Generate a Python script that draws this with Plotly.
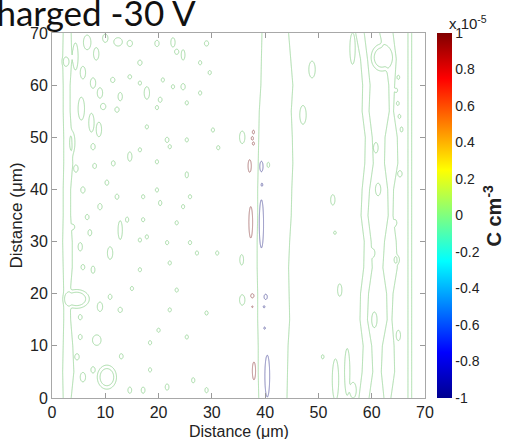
import numpy as np
import plotly.graph_objects as go

# ---------------------------------------------------------------------------
# Space-charge map, sample charged at -30 V.
# Values are in units of 1e-5 C cm^-3.
# ---------------------------------------------------------------------------

# Contour levels drawn
GREEN_LEVELS = [0.5, 1.5]      # near-zero charge (background fluctuations)
RED_LEVEL = 0.9                # positive charge
BLUE_LEVEL = -0.9              # negative charge
POCKET_PEAK = 2.0              # peak magnitude of the charge pockets

# Vertical near-zero contour bands: edge positions (um) sampled along y
BAND_Y = [0, 5, 10, 15, 20, 25, 30, 35, 40, 45, 50, 55, 60, 65, 70]
BAND_A_LEFT = [2.1, 2.0, 2.1, 2.2, 2.2, 2.1, 2.0, 2.1, 2.1, 2.2, 2.2, 2.1, 2.1, 2.0, 2.1]
BAND_A_RIGHT = [3.6, 4.1, 3.9, 3.5, 3.4, 3.8, 3.8, 3.5, 3.5, 3.9, 3.7, 3.4, 3.4, 3.7, 3.6]
BAND_B_LEFT = [38.8, 38.7, 38.7, 38.6, 38.6, 38.5, 38.5, 38.6, 38.6, 38.7, 38.8, 38.9, 39.2, 39.3, 39.4]
BAND_B_RIGHT = [44.1, 44.2, 44.3, 44.6, 44.5, 44.4, 44.6, 44.9, 45.0, 45.2, 45.1, 44.9, 45.2, 44.8, 44.4]
BAND_C_LEFT = [57.6, 58.2, 58.4, 57.8, 57.9, 58.5, 58.6, 58.0, 58.2, 58.7, 58.8, 58.2, 58.3, 57.9, 57.0]
BAND_C_RIGHT = [59.5, 60.2, 60.0, 59.2, 59.4, 60.1, 59.9, 59.3, 59.6, 60.3, 60.1, 59.5, 59.7, 59.2, 58.6]
BAND_E_LEFT = [62.3, 61.8, 62.0, 62.9, 62.8, 62.1, 62.4, 63.1, 63.0, 62.4, 62.5, 63.3, 63.2, 62.6, 61.5]
BAND_E_RIGHT = [63.6, 64.3, 64.2, 63.8, 64.0, 64.8, 64.6, 64.0, 64.1, 64.9, 64.8, 64.1, 64.3, 64.6, 64.0]
BAND_D_LEFT = [66.8] * 15
BAND_D_RIGHT = [67.5] * 15

# Small near-zero islands: x, y, half-width x, half-width y (um)
GREEN_X = [2.6, 4.4, 6.6, 8.3, 10.0, 12.4, 14.6, 16.5, 19.7, 22.7, 23.4, 24.6,
           27.8, 29.0, 29.6, 5.8, 7.7, 11.4, 9.0, 12.8, 14.6, 16.5, 17.8, 20.8,
           22.7, 20.3, 24.6, 27.8, 25.3, 5.5, 7.4, 9.6, 12.2, 8.8, 17.8, 19.7,
           30.2, 16.5, 14.6, 19.7, 21.6, 25.3, 25.3, 3.8, 7.7, 10.3, 5.8, 12.2,
           17.1, 9.0, 6.6, 14.1, 20.3, 23.4, 31.2, 22.1, 25.9, 24.6, 19.7, 4.5,
           8.0, 11.5, 3.9, 5.3, 7.1, 5.8, 7.7, 10.9, 12.8, 16.5, 12.8, 9.0,
           10.9, 5.3, 8.4, 5.3, 4.7, 7.7, 5.8, 14.6, 17.1, 18.4, 21.6, 22.1,
           23.4, 16.5, 17.8, 21.6, 22.1, 25.9, 27.2, 29.0, 25.3, 31.0, 26.5,
           29.0, 17.1, 18.4, 13.0, 20.0, 15.0, 35.7, 35.6, 35.7, 48.8, 47.1,
           52.7, 53.1, 54.0, 50.8, 40.6, 53.2, 55.4, 56.5, 64.6, 64.9, 65.2,
           65.6, 65.0, 64.4, 60.2, 64.7, 60.8, 61.2, 65.3, 60.5, 65.0, 56.4]
GREEN_Y = [64.5, 65.5, 68.2, 66.0, 69.0, 68.3, 68.0, 64.3, 68.0, 68.2, 66.4, 65.8,
           64.3, 68.0, 62.4, 62.4, 60.4, 61.0, 58.5, 57.8, 61.6, 60.4, 58.5, 61.0,
           59.7, 57.2, 59.7, 58.5, 56.6, 55.5, 52.8, 55.9, 55.3, 51.5, 52.0, 55.7,
           51.4, 47.6, 46.3, 45.3, 49.5, 49.5, 42.8, 49.0, 48.2, 41.3, 39.9, 38.6,
           38.6, 36.7, 34.7, 34.2, 37.4, 33.6, 48.0, 48.2, 38.6, 36.7, 39.9, 44.0,
           44.5, 45.0, 32.8, 29.0, 31.7, 25.1, 24.6, 27.8, 32.2, 30.3, 16.9, 17.5,
           19.4, 15.5, 11.1, 11.7, 7.9, 5.4, 4.0, 1.5, 1.5, 5.4, 2.1, 16.9,
           20.7, 24.6, 30.9, 29.8, 25.9, 29.8, 27.8, 16.3, 11.7, 27.8, 3.4,
           1.5, 34.2, 10.6, 8.0, 13.0, 21.0, 50.0, 26.5, 18.8, 63.0, 54.3,
           38.0, 31.7, 20.7, 7.9, 44.7, 3.5, 5.0, 1.5, 59.0, 56.5, 54.0,
           51.5, 61.5, 33.6, 27.8, 26.5, 48.0, 40.0, 43.0, 15.0, 12.0, 67.0]
GREEN_RX = [0.6, 0.5, 0.7, 0.5, 0.5, 0.8, 0.5, 0.4, 0.4, 0.4, 0.4, 0.35,
            0.3, 0.4, 0.3, 0.5, 0.5, 0.4, 0.5, 0.4, 0.35, 0.3, 0.5, 0.3,
            0.3, 0.35, 0.4, 0.3, 0.3, 0.6, 0.5, 0.5, 0.4, 0.5, 0.3, 0.3,
            0.3, 0.3, 0.4, 0.3, 0.35, 0.3, 0.3, 0.5, 0.4, 0.35, 0.4, 0.35,
            0.3, 0.4, 0.35, 0.3, 0.3, 0.3, 0.3, 0.3, 0.3, 0.3, 0.3, 0.4,
            0.35, 0.35, 0.35, 0.4, 0.35, 0.35, 0.35, 0.5, 0.4, 0.3, 0.4, 0.5,
            0.35, 0.35, 0.8, 0.35, 0.4, 0.4, 0.5, 0.35, 0.35, 0.3, 0.35, 0.3,
            0.3, 0.3, 0.3, 0.3, 0.3, 0.3, 0.3, 0.3, 0.3, 0.3, 0.3,
            0.3, 0.3, 0.3, 0.35, 0.3, 0.3, 0.5, 0.35, 0.5, 0.6, 0.6,
            0.4, 0.25, 0.4, 0.25, 0.25, 0.6, 0.5, 0.6, 0.25, 0.25, 0.25,
            0.25, 0.25, 0.3, 0.4, 0.5, 0.4, 0.5, 0.4, 0.5, 0.4, 0.5]
GREEN_RY = [0.9, 2.6, 1.4, 1.2, 0.8, 0.8, 0.6, 0.5, 0.6, 0.9, 0.5, 1.0,
            0.4, 0.5, 0.4, 1.2, 1.0, 0.5, 1.0, 0.8, 0.4, 0.4, 1.2, 0.4,
            0.4, 0.5, 0.6, 0.4, 0.4, 2.2, 1.8, 0.6, 0.5, 1.4, 0.4, 0.4,
            0.4, 0.4, 0.9, 0.4, 0.5, 0.4, 0.6, 2.0, 0.6, 0.5, 0.6, 0.5,
            0.4, 0.6, 0.5, 0.5, 0.5, 0.4, 0.4, 0.4, 0.4, 0.4, 0.4, 0.7,
            0.5, 0.5, 0.5, 0.8, 0.6, 0.5, 0.7, 1.2, 1.8, 0.4, 0.5, 0.9,
            0.5, 0.5, 1.0, 0.5, 0.6, 0.6, 0.9, 0.6, 0.6, 0.4, 0.6, 0.4,
            0.4, 0.4, 0.4, 0.4, 0.4, 0.4, 0.4, 0.4, 0.4, 0.4, 0.5,
            0.5, 0.4, 0.4, 0.5, 0.4, 0.4, 1.2, 1.0, 1.0, 1.6, 1.8,
            1.0, 0.3, 1.2, 0.4, 0.5, 4.0, 4.5, 1.5, 0.4, 0.4, 0.4,
            0.5, 0.4, 0.6, 0.8, 0.8, 1.0, 1.2, 0.6, 1.5, 1.0, 3.0]

# Islands with a second (inner) contour: x, y, outer half-widths
RING_X = [61.9, 10.3, 4.6]
RING_Y = [65.3, 4.0, 19.0]
RING_RX = [2.0, 1.8, 2.4]
RING_RY = [2.6, 2.3, 1.8]
RING_PEAK = 2.2

# Charge pockets next to the x ~ 38.6 um boundary (contour half-widths, um)
POS_X = [37.8, 37.6, 37.8, 37.1, 37.3, 37.6, 37.6, 37.9]
POS_Y = [51.0, 49.8, 48.8, 44.5, 33.7, 19.6, 17.5, 5.2]
POS_RX = [0.2, 0.2, 0.2, 0.3, 0.35, 0.3, 0.12, 0.3]
POS_RY = [0.35, 0.35, 0.3, 1.2, 3.0, 0.4, 0.15, 1.7]

NEG_X = [39.3, 39.4, 39.3, 40.1, 39.8, 39.9, 40.4]
NEG_Y = [44.4, 40.9, 33.4, 19.4, 17.5, 13.4, 4.2]
NEG_RX = [0.3, 0.15, 0.4, 0.3, 0.15, 0.15, 0.45]
NEG_RY = [1.0, 0.3, 4.6, 0.5, 0.2, 0.2, 4.0]

CBAR_TICKS = [1, 0.8, 0.6, 0.4, 0.2, 0, -0.2, -0.4, -0.6, -0.8, -1]
AXIS_TICKS = [0, 10, 20, 30, 40, 50, 60, 70]

# MATLAB-style jet colour map
JET = [[0.0, "#00008f"], [0.125, "#0000ff"], [0.375, "#00ffff"],
       [0.625, "#ffff00"], [0.875, "#ff0000"], [1.0, "#800000"]]

GREEN_LINE = "#a8dca8"
RED_LINE = "#b07a7a"
BLUE_LINE = "#7a7ab4"
FONT = "Liberation Sans"

# Plot-area geometry in pixels (used to place the free-standing labels)
PLOT_LEFT, PLOT_RIGHT, PLOT_TOP, PLOT_BOTTOM = 52, 425, 33, 398


def px_x(px):
    return (px - PLOT_LEFT) / (PLOT_RIGHT - PLOT_LEFT)


def px_y(py):
    return (PLOT_BOTTOM - py) / (PLOT_BOTTOM - PLOT_TOP)


def bump(X, Y, x0, y0, rx, ry, peak, level):
    """Compact bump of height `peak` whose `level` contour is the given ellipse."""
    rho2 = (X - x0) ** 2 / rx ** 2 + (Y - y0) ** 2 / ry ** 2
    return peak * np.exp(np.log(level / peak) * rho2 ** 2)


def band(X, Y, left, right, w=0.12):
    L = np.interp(Y[:, 0], BAND_Y, left)[:, None]
    R = np.interp(Y[:, 0], BAND_Y, right)[:, None]
    return 1 / (1 + np.exp(-(X - L) / w)) * 1 / (1 + np.exp(-(R - X) / w))


# Near-zero fluctuation field over the whole scan
gx = np.arange(0, 70.0001, 0.14)
gy = np.arange(0, 70.0001, 0.14)
GX, GY = np.meshgrid(gx, gy)
G = np.zeros_like(GX)
for lo, hi in [(BAND_A_LEFT, BAND_A_RIGHT), (BAND_B_LEFT, BAND_B_RIGHT),
               (BAND_C_LEFT, BAND_C_RIGHT), (BAND_E_LEFT, BAND_E_RIGHT),
               (BAND_D_LEFT, BAND_D_RIGHT)]:
    G += band(GX, GY, lo, hi)
for x0, y0, rx, ry in zip(GREEN_X, GREEN_Y, GREEN_RX, GREEN_RY):
    G += bump(GX, GY, x0, y0, rx, ry, 1.0, GREEN_LEVELS[0])
for x0, y0, rx, ry in zip(RING_X, RING_Y, RING_RX, RING_RY):
    G += bump(GX, GY, x0, y0, rx, ry, RING_PEAK, GREEN_LEVELS[0])

# Charge field around the boundary
qx = np.arange(34, 43.0001, 0.04)
qy = np.arange(0, 70.0001, 0.05)
QX, QY = np.meshgrid(qx, qy)
Q = np.zeros_like(QX)
for x0, y0, rx, ry in zip(POS_X, POS_Y, POS_RX, POS_RY):
    Q += bump(QX, QY, x0, y0, rx, ry, POCKET_PEAK, RED_LEVEL)
for x0, y0, rx, ry in zip(NEG_X, NEG_Y, NEG_RX, NEG_RY):
    Q -= bump(QX, QY, x0, y0, rx, ry, POCKET_PEAK, -BLUE_LEVEL)

fig = go.Figure()
fig.add_trace(go.Contour(
    x=gx, y=gy, z=G.astype(np.float32), autocontour=False,
    contours=dict(start=GREEN_LEVELS[0], end=GREEN_LEVELS[-1], size=1.0, coloring="none"),
    line=dict(color=GREEN_LINE, width=1), showscale=False, hoverinfo="skip"))
fig.add_trace(go.Contour(
    x=qx, y=qy, z=Q.astype(np.float32), autocontour=False,
    contours=dict(start=RED_LEVEL, end=RED_LEVEL, size=1.0, coloring="none"),
    line=dict(color=RED_LINE, width=1), showscale=False, hoverinfo="skip"))
fig.add_trace(go.Contour(
    x=qx, y=qy, z=Q.astype(np.float32), autocontour=False,
    contours=dict(start=BLUE_LEVEL, end=BLUE_LEVEL, size=1.0, coloring="none"),
    line=dict(color=BLUE_LINE, width=1), showscale=False, hoverinfo="skip"))

# Colour scale for the charge density
fig.add_trace(go.Scatter(
    x=[-20, -20], y=[-20, -20], mode="markers", hoverinfo="skip", showlegend=False,
    marker=dict(color=[-1, 1], cmin=-1, cmax=1, colorscale=JET, size=1, showscale=True,
                colorbar=dict(x=px_x(437), xanchor="left", xpad=0, y=0.5, yanchor="middle",
                              ypad=0, len=1.0, lenmode="fraction", thickness=15,
                              outlinewidth=0, tickvals=CBAR_TICKS,
                              ticktext=[f"{t:g}" for t in CBAR_TICKS], ticks="",
                              tickfont=dict(family=FONT, size=14, color="#222")))))

axis_common = dict(range=[0, 70], tickvals=AXIS_TICKS, ticks="inside", ticklen=5,
                   tickcolor="#9a9a9a", showline=True, linecolor="#a8a8a8", linewidth=1,
                   mirror="ticks", showgrid=False, zeroline=False, automargin=False,
                   tickfont=dict(family=FONT, size=16, color="#222"))

fig.update_layout(
    width=514, height=439,
    margin=dict(l=PLOT_LEFT, r=514 - PLOT_RIGHT, t=PLOT_TOP, b=439 - PLOT_BOTTOM,
                autoexpand=False),
    paper_bgcolor="white", plot_bgcolor="white",
    showlegend=False,
    xaxis=dict(**axis_common, ticklabelstandoff=0),
    yaxis=dict(**axis_common,
               title=dict(text="Distance (\u03bcm)", standoff=3,
                          font=dict(family=FONT, size=17, color="#222"))),
    annotations=[
        dict(text="Distance (\u03bcm)", xref="paper", yref="paper", x=0.5, y=px_y(431),
             xanchor="center", yanchor="middle", showarrow=False,
             font=dict(family=FONT, size=16, color="#222")),
        dict(text="Charged -30 V", xref="paper", yref="paper", x=px_x(198),
             y=px_y(35), xanchor="right", yanchor="bottom", showarrow=False,
             font=dict(family="Lato", size=35, color="#111")),
        dict(text="x 10<sup>-5</sup>", xref="paper", yref="paper", x=px_x(447),
             y=px_y(22), xanchor="left", yanchor="middle", showarrow=False,
             font=dict(family=FONT, size=15, color="#222")),
        dict(text="<b>C cm<sup>-3</sup></b>", xref="paper", yref="paper", x=px_x(492),
             y=0.5, xanchor="center", yanchor="middle", textangle=-90, showarrow=False,
             font=dict(family=FONT, size=20, color="#222")),
    ],
)

fig.write_html("out.html")
